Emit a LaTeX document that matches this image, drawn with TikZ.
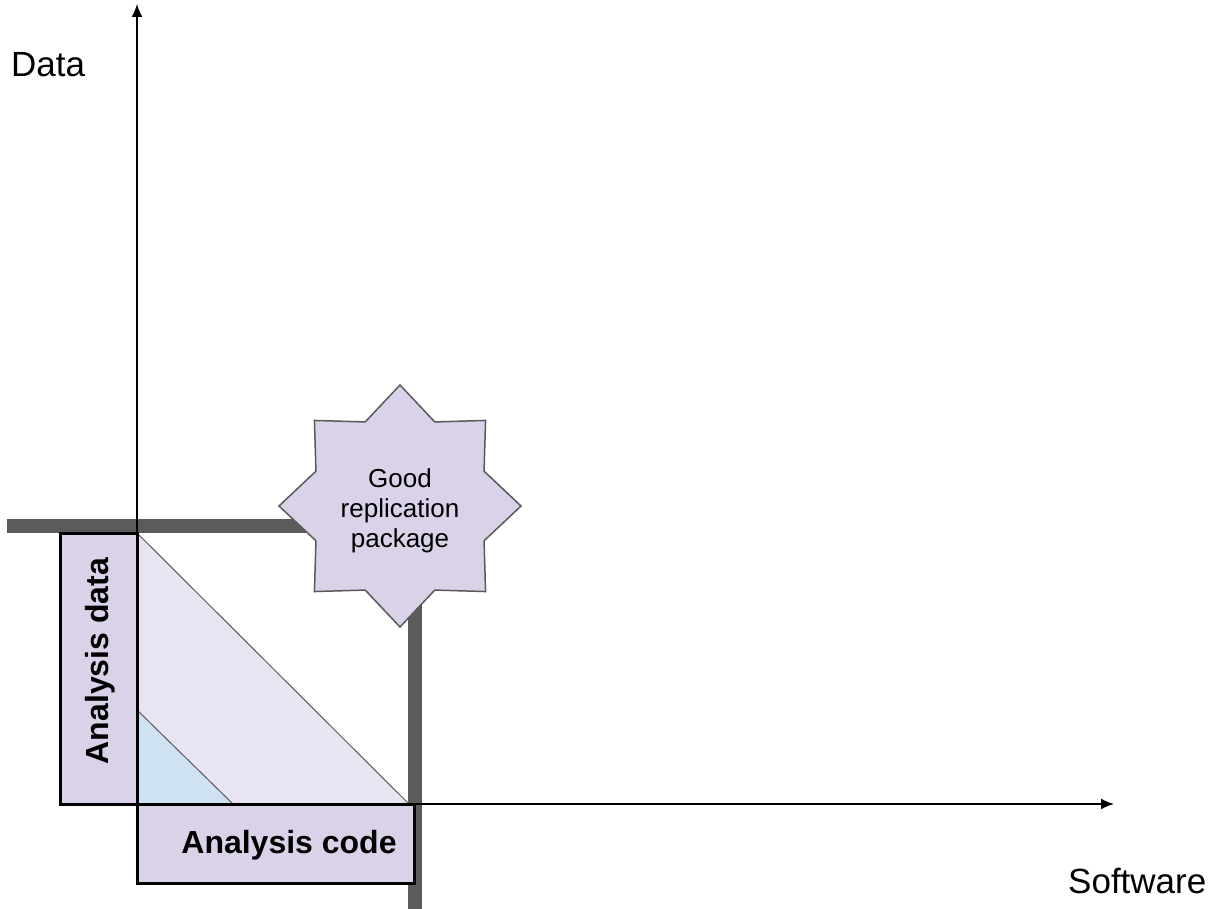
\documentclass[tikz,border=0pt]{standalone}
\usepackage{fontspec}
\setmainfont{Liberation Sans}
\usetikzlibrary{shapes.geometric,arrows.meta}
\definecolor{lav}{HTML}{D9D2E9}
\definecolor{lavlight}{HTML}{E8E4F2}
\definecolor{lblue}{HTML}{CFE2F3}
\definecolor{bargray}{HTML}{5B5B5B}
\definecolor{edgegray}{HTML}{595959}
\tikzset{
  bar/.style={line width=14pt, draw=bargray},
  axis/.style={line width=1.8pt, draw=black, -{Latex[length=13pt,width=11pt]}},
  boxrect/.style={line width=3pt, draw=black, fill=lav},
  tri/.style={line width=1pt, draw=edgegray},
  biglabel/.style={font=\fontsize{35}{42}\selectfont, inner sep=0pt},
  boldlabel/.style={font=\bfseries\fontsize{32}{38}\selectfont, inner sep=0pt},
  starbox/.style={star, star points=8, star point ratio=1.33, minimum size=242pt,
    inner sep=0pt, fill=lav, draw=edgegray, line width=1.5pt},
  startext/.style={align=center, inner sep=0pt, font=\fontsize{26}{30}\selectfont}
}
\begin{document}
\begin{tikzpicture}[x=1pt,y=-1pt]
\useasboundingbox (0,0) rectangle (1218,909);
% gray bars
\draw[bar] (7,526) -- (330,526);
\draw[bar] (415,580) -- (415,909);
% triangles
\draw[tri, fill=lavlight] (137,533) -- (137,804) -- (409,804) -- cycle;
\draw[tri, fill=lblue] (137,710) -- (137,804) -- (233,804) -- cycle;
% boxes
\draw[boxrect] (60,533) rectangle (137,804);
\draw[boxrect] (137,804) rectangle (414,883);
% axes
\coordinate (O) at (137,804);
\coordinate (ytip) at (137,4);
\coordinate (xtip) at (1114,804);
\draw[axis] (O) -- (ytip);
\draw[axis] (O) -- (xtip);
% labels
\node[biglabel, anchor=base west] (data) at (11,77) {Data};
\node[biglabel, anchor=base west] (soft) at (1068,893) {Software};
\node[boldlabel, anchor=base] (code) at (289,853) {Analysis code};
\node[boldlabel, anchor=base, rotate=90] (adata) at (108,661) {Analysis data};
% star
\node[starbox] (star) at (400,506) {};
\node[startext] (startxt) at (400,511) {Good\\replication\\package};
\end{tikzpicture}
\end{document}
